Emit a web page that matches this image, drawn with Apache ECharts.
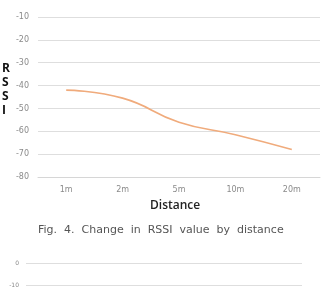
<!DOCTYPE html>
<html>
<head>
<meta charset="utf-8">
<script src="https://cdn.jsdelivr.net/npm/echarts@6/dist/echarts.min.js"></script>
<style>
  html, body { margin: 0; padding: 0; background: #fff; }
  #chart { width: 326px; height: 295px; }
</style>
</head>
<body>
<div id="chart"></div>
<script>
// values
var distances = ['1m', '2m', '5m', '10m', '20m'];
var rssi = [-42, -45.5, -56, -61.5, -68];
var yTicks = { min: -80, max: -10, step: 10 };
// only the top of the next figure is visible
var nextTicks = { min: -10, max: 0, step: 10 };

var chart = echarts.init(document.getElementById('chart'), null, { renderer: 'canvas' });

var gridLine = { lineStyle: { color: '#dedede', width: 1 } };
var tickLabel = { color: '#8a8a8a', fontSize: 8, fontFamily: 'DejaVu Sans' };

var option = {
  backgroundColor: '#ffffff',
  animation: false,
  grid: [
    { left: 38, right: 6, top: 17, height: 160 },
    { left: 26, right: 24, top: 263, height: 22 }
  ],
  xAxis: [{
    gridIndex: 0,
    type: 'category',
    data: distances,
    boundaryGap: true,
    axisLine: { lineStyle: { color: '#d6d6d6' } },
    axisTick: { show: false },
    axisLabel: { color: '#8a8a8a', fontSize: 8, margin: 9, fontFamily: 'DejaVu Sans' }
  }, {
    gridIndex: 1,
    type: 'category',
    data: distances,
    show: false
  }],
  yAxis: [{
    gridIndex: 0,
    type: 'value',
    min: yTicks.min,
    max: yTicks.max,
    interval: yTicks.step,
    axisLine: { show: false },
    axisTick: { show: false },
    axisLabel: Object.assign({ margin: 9 }, tickLabel),
    splitLine: gridLine
  }, {
    gridIndex: 1,
    type: 'value',
    min: nextTicks.min,
    max: nextTicks.max,
    interval: nextTicks.step,
    axisLine: { show: false },
    axisTick: { show: false },
    axisLabel: Object.assign({ margin: 7 }, tickLabel, { fontSize: 6 }),
    splitLine: gridLine
  }],
  series: [{
    type: 'line',
    xAxisIndex: 0,
    yAxisIndex: 0,
    data: rssi,
    smooth: true,
    symbol: 'none',
    lineStyle: { color: '#f0ab7c', width: 1.6 }
  }],
  graphic: [
    {
      type: 'text',
      left: 2,
      top: 62,
      style: {
        text: 'R\nS\nS\nI',
        fill: '#111',
        font: 'bold 12px "Open Sans", sans-serif',
        lineHeight: 14,
        align: 'center'
      }
    },
    {
      type: 'text',
      left: 150,
      top: 200,
      style: {
        text: 'Distance',
        fill: '#222',
        font: '600 12px "Open Sans", sans-serif'
      }
    },
    {
      type: 'text',
      left: 38,
      top: 225,
      style: {
        text: 'Fig.  4.  Change  in  RSSI  value  by  distance',
        fill: '#555',
        font: '11px "DejaVu Sans", sans-serif'
      }
    }
  ]
};

chart.setOption(option);
</script>
</body>
</html>
